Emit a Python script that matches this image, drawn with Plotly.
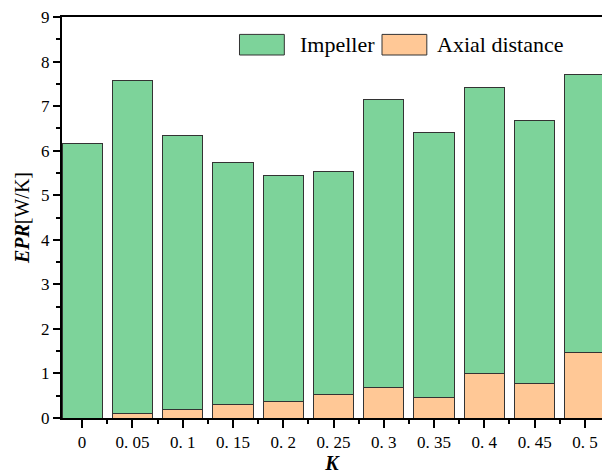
import plotly.graph_objects as go

categories = ["0", "0. 05", "0. 1", "0. 15", "0. 2", "0. 25", "0. 3", "0. 35", "0. 4", "0. 45", "0. 5"]
axial_distance = [0.0, 0.10, 0.20, 0.31, 0.36, 0.52, 0.68, 0.45, 1.00, 0.78, 1.46]
impeller = [6.15, 7.47, 6.15, 5.43, 5.09, 5.01, 6.47, 5.96, 6.42, 5.89, 6.24]
y_ticks = [0, 1, 2, 3, 4, 5, 6, 7, 8, 9]

GREEN = "#7DD39A"
ORANGE = "#FFC896"
EDGE = "#333333"
FONT = "Liberation Serif"

idx = list(range(len(categories)))

fig = go.Figure()
fig.add_trace(go.Bar(x=idx, y=axial_distance, name="Axial distance",
                     marker=dict(color=ORANGE, line=dict(color=EDGE, width=1)),
                     width=0.8, showlegend=False))
fig.add_trace(go.Bar(x=idx, y=impeller, name="Impeller",
                     marker=dict(color=GREEN, line=dict(color=EDGE, width=1)),
                     width=0.8, showlegend=False))

# custom legend (large swatches like the original)
legend_items = [("Impeller", GREEN, 0.3287, 0.437), ("Axial distance", ORANGE, 0.5926, 0.6907)]
for name, col, sx, tx in legend_items:
    fig.add_shape(type="rect", xref="paper", yref="paper",
                  x0=sx, x1=sx + 0.083, y0=0.9052, y1=0.9566,
                  fillcolor=col, line=dict(color=EDGE, width=1))
    fig.add_annotation(xref="paper", yref="paper", x=tx, y=0.931,
                       text=name, showarrow=False, xanchor="left", yanchor="middle",
                       font=dict(family=FONT, size=22, color="black"))

fig.update_layout(
    barmode="stack",
    width=602, height=475,
    margin=dict(l=62, r=0, t=17, b=57),
    plot_bgcolor="white", paper_bgcolor="white",
    font=dict(family=FONT, size=17, color="black"),
    xaxis=dict(
        range=[-0.4, 10.34],
        tickmode="array", tickvals=idx, ticktext=categories,
        ticks="outside", ticklen=8, tickwidth=1.5, tickcolor="black",
        minor=dict(tickmode="linear", tick0=0, dtick=0.5, ticks="outside",
                   ticklen=4, tickwidth=1.5, tickcolor="black"),
        showline=True, linecolor="black", linewidth=2, mirror=True,
        showgrid=False, zeroline=False,
        tickfont=dict(family=FONT, size=17),
        title=dict(text="<b><i>K</i></b>", font=dict(family=FONT, size=20), standoff=4),
    ),
    yaxis=dict(
        range=[0, 9],
        tickmode="array", tickvals=y_ticks,
        ticks="outside", ticklen=7, tickwidth=1.5, tickcolor="black",
        minor=dict(tickmode="linear", tick0=0, dtick=0.5, ticks="outside",
                   ticklen=4, tickwidth=1.5, tickcolor="black"),
        showline=True, linecolor="black", linewidth=2, mirror=False,
        showgrid=False, zeroline=False,
        tickfont=dict(family=FONT, size=17),
        title=dict(text="<b><i>EPR</i></b>[W/K]", font=dict(family=FONT, size=20), standoff=6),
    ),
)

fig.write_html("out.html")
